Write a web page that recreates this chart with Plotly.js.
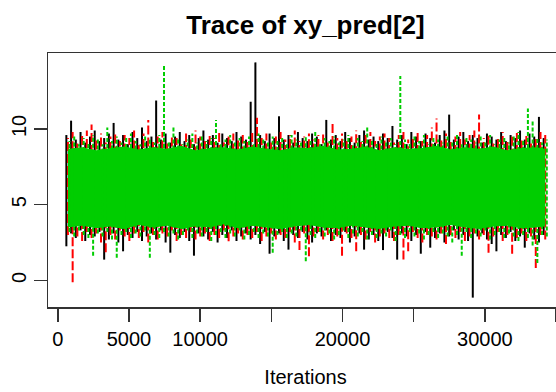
<!DOCTYPE html>
<html><head><meta charset="utf-8">
<script src="https://cdn.plot.ly/plotly-3.0.1.min.js"></script>
<style>html,body{margin:0;padding:0;overflow:hidden;background:#fff;width:556px;height:392px}</style>
</head><body><div id="chart" style="width:570px;height:392px"></div>
<script>
// Thinned trace: extremes of each chain in consecutive windows of iterations
const iterStart = 600;
const iterStep = 332;
const chainOffsets = [0, 110, 220];
const chainNames = ["chain1", "chain2", "chain3"];

const blackHi = [9.6,10.55,9.3,9.8,9.1,9.5,9.9,9.2,9.4,9.7,10.4,9.3,9.6,9.0,9.8,9.4,10.1,9.2,9.5,11.88,9.3,9.7,9.1,9.5,9.8,9.2,9.6,9.0,9.4,9.9,9.3,9.6,9.1,9.7,9.4,9.2,9.8,9.5,9.3,11.8,14.4,9.6,9.2,9.7,9.4,10.84,9.3,9.6,9.1,9.8,9.4,9.2,9.7,9.5,9.0,10.6,9.3,9.6,9.2,9.8,9.4,9.1,9.6,9.9,9.3,9.5,9.2,9.7,9.4,10.2,9.3,9.6,9.0,9.8,9.5,9.2,9.7,9.4,9.1,9.6,9.9,10.95,9.3,9.5,9.8,9.2,9.6,9.4,9.1,9.7,9.5,9.3,9.8,9.2,9.6,9.4,9.9,9.3,9.7,9.5,10.8,9.4];
const blackLo = [2.25,3.1,2.8,3.3,2.6,3.0,2.9,3.2,1.37,2.7,3.1,2.5,1.92,3.0,2.8,3.2,2.6,2.9,3.1,2.7,3.3,2.5,1.83,3.0,2.8,3.2,2.6,1.63,3.1,2.9,2.7,3.2,2.5,3.0,2.8,3.3,2.6,2.9,3.1,2.7,3.0,2.4,3.2,1.76,2.9,3.1,2.6,2.03,3.0,2.8,3.2,2.7,2.5,3.1,2.9,3.3,2.6,3.0,2.8,3.2,2.5,2.9,3.1,2.03,2.7,3.0,2.6,2.0,3.2,2.8,1.37,3.1,2.9,2.6,3.0,1.76,3.2,2.16,2.8,3.1,2.5,2.9,3.3,2.7,3.0,2.6,-1.14,2.9,3.1,2.7,2.4,1.92,3.0,2.8,3.2,2.6,2.9,2.16,3.1,2.7,2.5,3.0];
const redHi = [9.4,9.8,9.2,9.6,9.9,10.3,9.3,9.7,9.1,9.5,9.8,9.2,9.6,9.4,9.9,9.1,9.7,10.6,9.3,9.5,9.8,9.2,9.6,9.4,9.0,9.7,9.3,9.9,9.5,9.2,9.6,9.4,9.8,9.1,9.5,9.7,9.3,9.6,9.2,9.9,10.75,9.4,9.7,9.1,9.5,9.8,9.3,9.6,9.9,9.2,9.5,9.7,9.3,9.6,9.8,9.1,10.4,9.4,9.7,9.2,9.5,9.9,9.3,9.6,9.8,9.2,9.5,9.7,9.4,9.1,9.6,9.8,9.3,9.5,9.9,9.2,9.6,10.1,10.7,9.4,9.7,9.2,9.5,9.8,9.3,9.6,9.9,10.95,9.4,9.7,9.2,9.5,9.8,9.3,9.6,9.9,9.4,9.7,9.2,9.5,9.8,9.6];
const redLo = [3.0,-0.13,2.9,2.6,3.2,2.8,3.1,2.5,1.85,3.0,2.7,3.3,2.9,2.6,3.1,2.8,3.2,2.5,3.0,2.7,3.1,2.9,3.3,2.6,3.0,2.8,3.2,2.7,2.9,3.1,2.6,3.0,2.8,3.3,2.58,2.9,3.1,2.7,3.0,2.8,3.2,2.6,2.9,3.1,2.7,3.0,2.8,3.2,2.5,2.0,3.1,1.59,2.9,3.2,2.7,3.0,2.6,2.9,1.63,3.1,2.8,1.92,3.0,2.7,3.2,2.5,2.9,3.1,2.8,2.6,3.0,1.37,1.92,3.2,2.8,2.5,3.0,2.9,2.7,3.1,2.4,3.0,2.8,3.2,2.6,2.9,3.1,2.7,3.0,1.83,2.9,3.2,2.6,3.0,1.76,2.8,3.1,2.6,2.9,0.82,3.0,2.7];
const greenHi = [9.2,9.5,9.0,9.4,9.1,9.6,9.3,9.0,10.1,9.2,9.5,9.1,9.4,9.7,9.2,9.0,9.5,9.3,9.1,9.6,14.26,9.2,10.1,9.4,9.0,9.3,9.7,9.1,9.5,9.2,9.4,10.6,9.0,9.3,9.6,9.1,9.4,9.2,9.5,9.0,9.7,9.3,9.1,9.5,9.2,9.4,9.0,9.6,9.3,9.1,9.5,9.2,9.8,9.0,9.4,9.2,9.5,9.1,9.3,9.6,9.0,9.4,9.2,10.1,9.3,9.1,9.5,9.2,9.4,9.0,13.5,9.3,9.1,9.5,9.2,9.6,9.0,9.4,9.3,9.1,9.5,9.2,9.7,9.0,9.4,9.3,9.1,9.5,9.2,9.6,9.0,9.3,9.4,9.1,9.5,9.8,9.2,11.35,10.5,9.4,9.1,9.3];
const greenLo = [3.2,2.9,3.3,3.0,2.8,1.63,3.1,2.9,3.2,2.7,1.5,3.0,3.2,2.8,3.1,2.9,3.3,1.5,3.0,2.8,3.2,2.9,3.1,2.7,3.0,3.3,2.8,3.1,2.9,3.2,2.6,3.0,3.2,2.8,3.1,2.9,3.3,2.7,3.0,3.2,2.8,3.1,2.9,1.83,3.0,3.2,2.8,3.1,2.9,3.3,1.26,3.0,2.8,3.2,2.9,3.1,2.7,3.0,3.3,2.8,3.1,2.9,3.2,2.7,3.0,2.8,3.1,2.9,3.3,2.6,3.0,2.8,3.2,2.9,3.1,2.7,3.0,3.2,2.8,3.1,2.9,2.5,3.0,1.63,3.2,2.8,3.1,2.9,3.3,2.7,3.0,3.2,2.8,3.1,2.9,2.6,3.0,2.8,2.3,1.15,3.0,2.9];
// dense core of chain 3 (every third window, plus the last one)
const greenCoreTop = [8.7,8.8,8.6,8.75,8.85,8.65,8.8,8.7,8.9,8.6,8.75,8.8,8.65,8.85,8.7,8.6,8.8,8.75,8.9,8.65,8.7,8.85,8.6,8.8,8.7,8.75,8.9,8.65,8.8,8.7,8.85,8.6,8.75,8.8,8.7];
const greenCoreBot = [3.5,3.6,3.45,3.55,3.4,3.65,3.5,3.6,3.4,3.55,3.5,3.7,3.45,3.6,3.5,3.4,3.55,3.65,3.5,3.45,3.6,3.5,3.4,3.55,3.6,3.45,3.5,3.65,3.5,3.4,3.55,3.6,3.45,3.5,3.55];

const tickVals = [0,5000,10000,15000,20000,25000,30000,35000];
const tickLabels = ["0","5000","10000","","20000","","30000",""];
const yTickVals = [0,5,10];
const yTickLabels = ["0","5","10"];

function segments(hi, lo, off){
  const x=[], y=[];
  for(let i=0;i<hi.length;i++){
    const it = iterStart + iterStep*i + off;
    x.push(it, it, null); y.push(lo[i], hi[i], null);
  }
  return {x, y};
}
const sB = segments(blackHi, blackLo, chainOffsets[0]);
const sR = segments(redHi, redLo, chainOffsets[1]);
const sG = segments(greenHi, greenLo, chainOffsets[2]);

const coreIdx = [];
for(let i=0;i<greenHi.length-1;i+=3) coreIdx.push(i);
coreIdx.push(greenHi.length-1);
const coreX = [], coreY = [];
coreIdx.forEach((idx,k)=>{ coreX.push(iterStart+iterStep*idx+chainOffsets[1]); coreY.push(greenCoreTop[k]); });
for(let k=coreIdx.length-1;k>=0;k--){ coreX.push(iterStart+iterStep*coreIdx[k]+chainOffsets[1]); coreY.push(greenCoreBot[k]); }

const traces = [
  {x:sB.x, y:sB.y, type:'scatter', mode:'lines', name:chainNames[0], connectgaps:false, line:{color:'#000000', width:2}},
  {x:sR.x, y:sR.y, type:'scatter', mode:'lines', name:chainNames[1], connectgaps:false, line:{color:'#FF0000', width:2, dash:'9px,3px'}},
  {x:coreX, y:coreY, type:'scatter', mode:'lines', fill:'toself', fillcolor:'#00CD00', line:{width:0, color:'#00CD00'}, name:chainNames[2]},
  {x:sG.x, y:sG.y, type:'scatter', mode:'lines', name:chainNames[2], connectgaps:false, line:{color:'#00CD00', width:2, dash:'4px,2px'}}
];

const axisCommon = {showgrid:false, zeroline:false, showline:true, mirror:true, linecolor:'#333', linewidth:1.5,
  ticks:'outside', ticklen:13, tickwidth:1.5, tickcolor:'#333', tickfont:{size:20, color:'#000'}, automargin:false};

const layout = {
  width:570, height:392,
  margin:{l:48, r:7, t:53, b:85},
  paper_bgcolor:'#ffffff', plot_bgcolor:'#ffffff',
  showlegend:false, hovermode:false,
  font:{family:'"Liberation Sans", Arial, sans-serif', color:'#000', size:20},
  title:{text:'<b>Trace of xy_pred[2]</b>', font:{size:26, color:'#000'}, x:0.5, xref:'paper', xanchor:'center', y:1-25/392, yref:'container', yanchor:'middle'},
  xaxis:Object.assign({}, axisCommon, {range:[-690,35490], tickmode:'array', tickvals:tickVals, ticktext:tickLabels,
    title:{text:'Iterations', font:{size:20, color:'#000'}, standoff:21}}),
  yaxis:Object.assign({}, axisCommon, {range:[-1.76,15.02], tickmode:'array', tickvals:yTickVals, ticktext:yTickLabels, tickangle:-90})
};
Plotly.newPlot('chart', traces, layout, {staticPlot:true, displayModeBar:false});
</script></body></html>
